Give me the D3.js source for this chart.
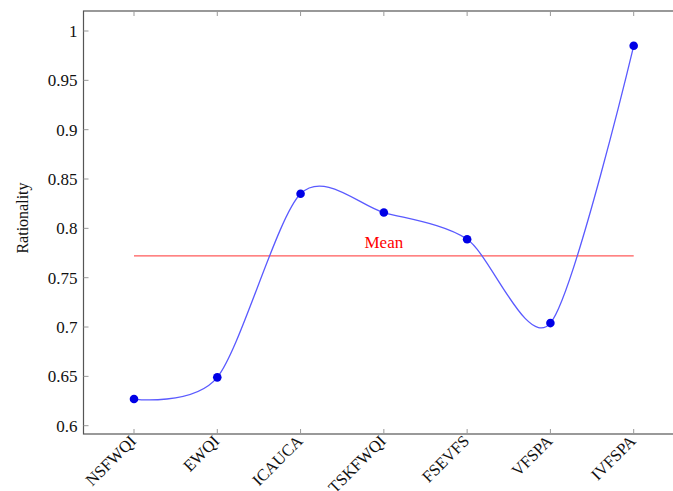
<!DOCTYPE html>
<html>
<head>
<meta charset="utf-8">
<script src="https://cdn.jsdelivr.net/npm/d3@7"></script>
<style>
  html, body { margin: 0; padding: 0; background: #fff; }
  svg { display: block; }
</style>
</head>
<body>
<svg id="chart" width="673" height="491"></svg>
<script>
// Rationality score per index
const categories = ["NSFWQI", "EWQI", "ICAUCA", "TSKFWQI", "FSEVFS", "VFSPA", "IVFSPA"];
const rationality = [0.627, 0.649, 0.835, 0.816, 0.789, 0.704, 0.985];
const yTicks = [0.6, 0.65, 0.7, 0.75, 0.8, 0.85, 0.9, 0.95, 1];
const yTickLabels = ["0.6", "0.65", "0.7", "0.75", "0.8", "0.85", "0.9", "0.95", "1"];
const meanValue = d3.mean(rationality);

const FONT = "'Liberation Serif', 'Times New Roman', 'DejaVu Serif', serif";

const svg = d3.select("#chart");
const box = { left: 83.5, right: 684, top: 11, bottom: 434 };

const x = d3.scaleLinear().domain([0, categories.length - 1]).range([134, 633.7]);
const y = d3.scaleLinear().domain([0.6, 1]).range([425.7, 31]);

// smooth curve in the style of TikZ "smooth": endpoints use the point itself as control
function smoothCurve(k) {
  return function (context) {
    let pts = [];
    return {
      lineStart() { pts = []; },
      lineEnd() {
        const n = pts.length;
        if (!n) return;
        context.moveTo(pts[0][0], pts[0][1]);
        for (let i = 0; i < n - 1; i++) {
          const p0 = pts[Math.max(i - 1, 0)], p1 = pts[i], p2 = pts[i + 1], p3 = pts[Math.min(i + 2, n - 1)];
          const c1 = i === 0 ? p1 : [p1[0] + k * (p2[0] - p0[0]), p1[1] + k * (p2[1] - p0[1])];
          const c2 = i === n - 2 ? p2 : [p2[0] - k * (p3[0] - p1[0]), p2[1] - k * (p3[1] - p1[1])];
          context.bezierCurveTo(c1[0], c1[1], c2[0], c2[1], p2[0], p2[1]);
        }
      },
      areaStart() {}, areaEnd() {},
      point(px, py) { pts.push([+px, +py]); }
    };
  };
}

// axis frame
svg.append("rect")
  .attr("x", box.left).attr("y", box.top)
  .attr("width", box.right - box.left).attr("height", box.bottom - box.top)
  .attr("fill", "none").attr("stroke", "#555").attr("stroke-width", 1.2);

// y ticks (inward) and labels
const gy = svg.append("g");
gy.selectAll("line").data(yTicks).join("line")
  .attr("x1", box.left).attr("x2", box.left + 5)
  .attr("y1", d => y(d)).attr("y2", d => y(d))
  .attr("stroke", "#999").attr("stroke-width", 1);
gy.selectAll("text").data(yTicks).join("text")
  .attr("x", box.left - 6).attr("y", d => y(d))
  .attr("dy", "0.35em").attr("text-anchor", "end")
  .attr("font-family", FONT)
  .attr("font-size", 17)
  .attr("fill", "#111")
  .text((d, i) => yTickLabels[i]);

// x ticks (inward, bottom and top) and rotated labels
const gx = svg.append("g");
gx.selectAll("line.b").data(categories).join("line").attr("class", "b")
  .attr("x1", (d, i) => x(i)).attr("x2", (d, i) => x(i))
  .attr("y1", box.bottom).attr("y2", box.bottom - 5)
  .attr("stroke", "#999");
gx.selectAll("line.t").data(categories).join("line").attr("class", "t")
  .attr("x1", (d, i) => x(i)).attr("x2", (d, i) => x(i))
  .attr("y1", box.top).attr("y2", box.top + 5)
  .attr("stroke", "#999");
gx.selectAll("text").data(categories).join("text")
  .attr("transform", (d, i) => `translate(${x(i) - 1},${box.bottom + 4}) rotate(-45)`)
  .attr("text-anchor", "end").attr("dy", "0.35em")
  .attr("font-family", FONT)
  .attr("font-size", 16.5)
  .attr("fill", "#111")
  .text(d => d);

// y axis title
svg.append("text")
  .attr("transform", "translate(28,218) rotate(-90)")
  .attr("text-anchor", "middle")
  .attr("font-family", FONT)
  .attr("font-size", 16)
  .attr("fill", "#111")
  .text("Rationality");

// mean line and label
svg.append("line")
  .attr("x1", x(0)).attr("x2", x(categories.length - 1))
  .attr("y1", y(meanValue)).attr("y2", y(meanValue))
  .attr("stroke", "#ff5a5a").attr("stroke-width", 1.2);
svg.append("text")
  .attr("x", x(3)).attr("y", y(meanValue) - 8)
  .attr("text-anchor", "middle")
  .attr("font-family", FONT)
  .attr("font-size", 17)
  .attr("fill", "#ff0000")
  .text("Mean");

// smoothed series line
const line = d3.line()
  .x((d, i) => x(i))
  .y(d => y(d))
  .curve(smoothCurve(0.14));
svg.append("path")
  .datum(rationality)
  .attr("d", line)
  .attr("fill", "none")
  .attr("stroke", "#5a5aff")
  .attr("stroke-width", 1.3);

// markers
svg.append("g").selectAll("circle").data(rationality).join("circle")
  .attr("cx", (d, i) => x(i)).attr("cy", d => y(d))
  .attr("r", 4.3)
  .attr("fill", "#0000e6");
</script>
</body>
</html>
